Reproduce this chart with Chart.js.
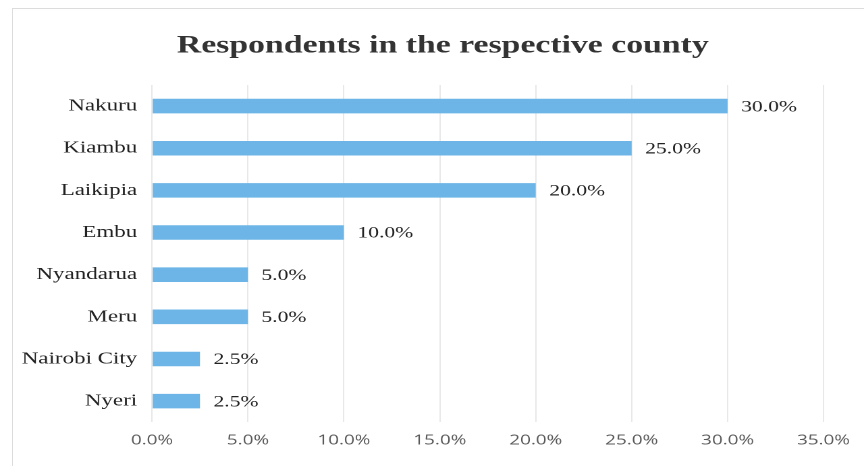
<!DOCTYPE html>
<html>
<head>
<meta charset="utf-8">
<title>Respondents in the respective county</title>
<script src="https://cdn.jsdelivr.net/npm/chart.js"></script>
<style>
body{margin:0;background:#fff;}
.wrap{position:relative;width:864px;height:466px;overflow:hidden;}
.frame{position:absolute;left:12px;top:8px;right:-2px;bottom:-2px;border:1px solid #dcdcdc;}
/* canvas is laid out narrow and stretched wide, like the exported figure */
#countyChart{position:absolute;left:0;top:0;width:864px;height:466px;}
</style>
</head>
<body>
<div class="wrap">
<div class="frame"></div>
<canvas id="countyChart" width="640" height="466" style="width:864px;height:466px"></canvas>
</div>

<script>
const counties=["Nakuru","Kiambu","Laikipia","Embu","Nyandarua","Meru","Nairobi City","Nyeri"];
const shares=[30.0,25.0,20.0,10.0,5.0,5.0,2.5,2.5];
const xTicks=[0,5,10,15,20,25,30,35];
const chartTitle="Respondents in the respective county";

// title centred over the framed area rather than the plot
const titleText={
id:"titleText",
afterDraw(chart){
const ctx=chart.ctx;
ctx.save();
ctx.font="bold 25px 'Liberation Serif', 'Times New Roman', serif";
ctx.fillStyle="#333";
ctx.textAlign="center";
ctx.textBaseline="middle";
ctx.fillText(chartTitle,328,46);
ctx.restore();
}
};

// value labels at the end of each bar
const barLabels={
id:"barLabels",
afterDatasetsDraw(chart){
const ctx=chart.ctx;
const meta=chart.getDatasetMeta(0);
ctx.save();
ctx.font="16px 'Liberation Serif', 'Times New Roman', serif";
ctx.fillStyle="#222";
ctx.textAlign="left";
ctx.textBaseline="middle";
meta.data.forEach((bar,i)=>{
ctx.fillText(shares[i].toFixed(1)+"%",bar.x+10,bar.y+1);
});
ctx.restore();
}
};

new Chart(document.getElementById("countyChart"),{
type:"bar",
data:{
labels:counties,
datasets:[{
data:shares,
backgroundColor:"#6cb5e6",
borderWidth:0,
categoryPercentage:1,
barPercentage:0.345
}]
},
options:{
indexAxis:"y",
responsive:false,
animation:false,
devicePixelRatio:2,
layout:{padding:{left:9,right:30,top:85,bottom:7}},
plugins:{
legend:{display:false},
tooltip:{enabled:false},
title:{display:false}
},
scales:{
x:{
min:0,max:35,
afterBuildTicks(scale){scale.ticks=xTicks.map(v=>({value:v}));},
grid:{color:"#e8e8e8",drawTicks:false},
border:{display:false},
ticks:{
padding:10,
color:"#595959",
font:{family:"'Open Sans', 'DejaVu Sans', sans-serif",size:14},
callback:v=>v.toFixed(1)+"%"
}
},
y:{
afterFit(scale){scale.width=103.6;},
grid:{display:false,drawTicks:false},
border:{display:false},
ticks:{
padding:11,
color:"#222",
font:{family:"'Liberation Serif', 'Times New Roman', serif",size:17}
}
}
}
},
plugins:[barLabels,titleText]
});
</script>
</body>
</html>
